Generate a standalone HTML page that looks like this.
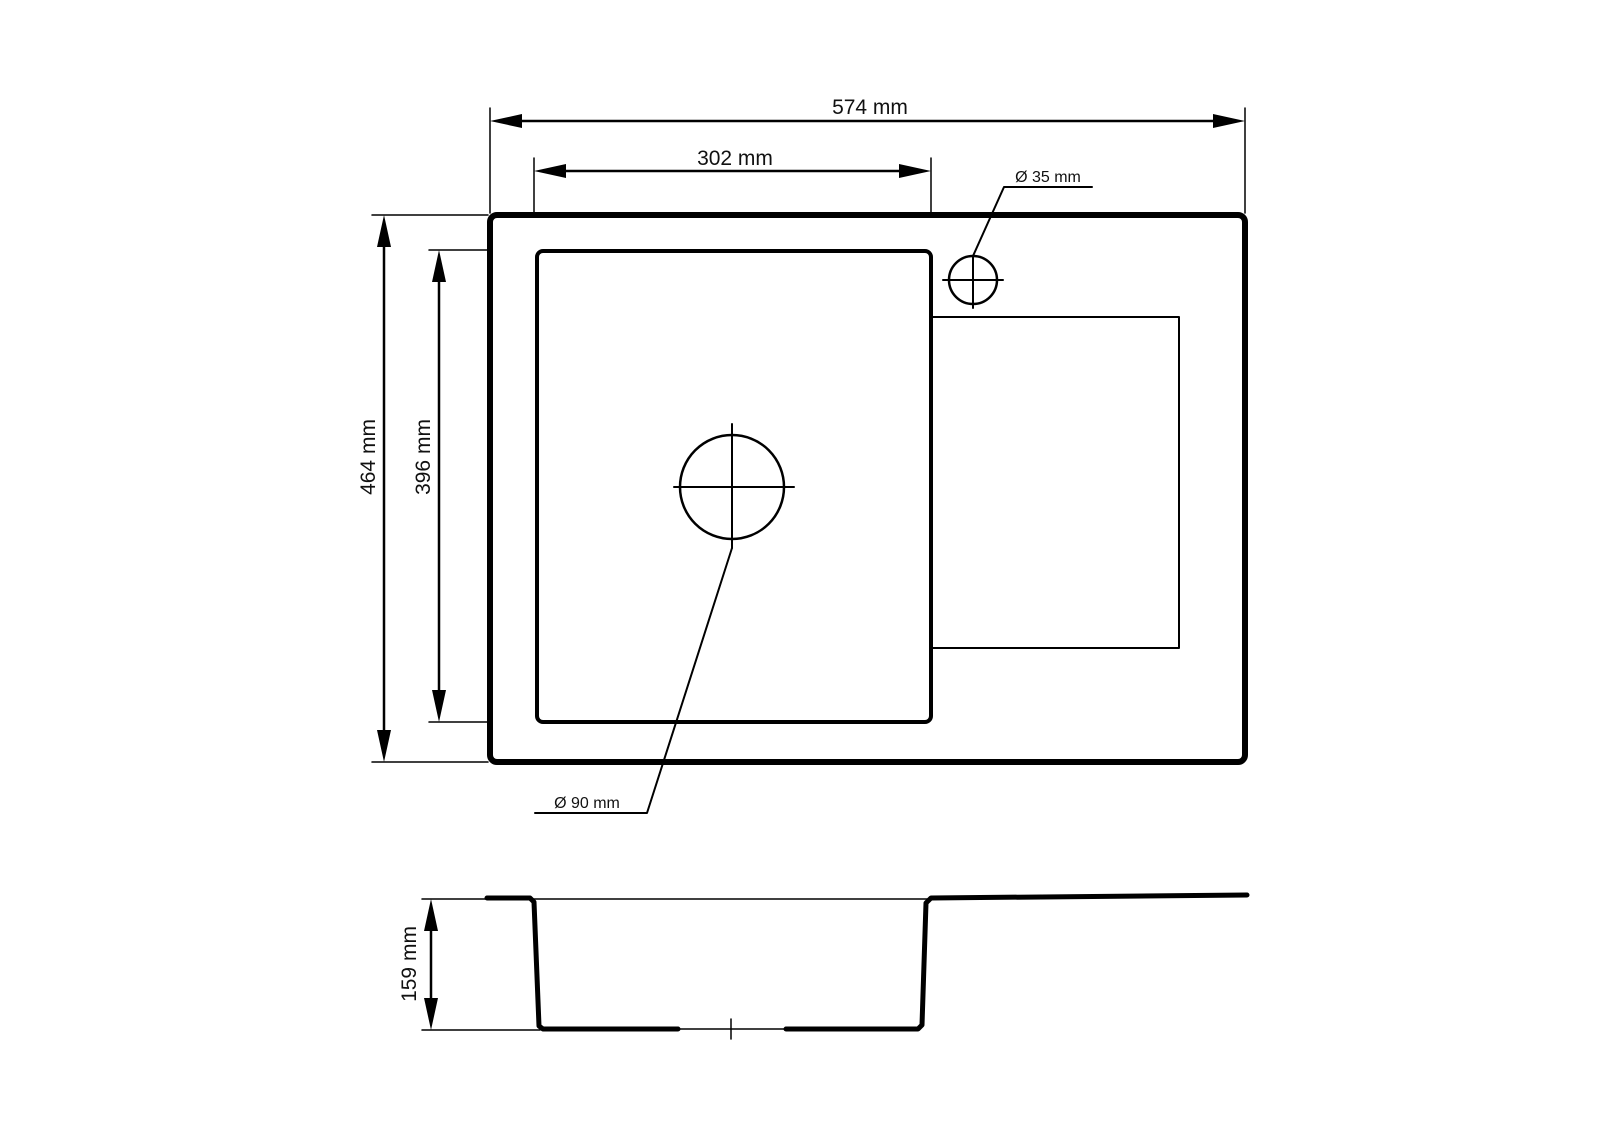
<!DOCTYPE html>
<html><head><meta charset="utf-8"><style>
html,body{margin:0;padding:0;background:#fff;}
svg{display:block;}
text{font-family:"Liberation Sans",sans-serif;fill:#111;}
</style></head><body>
<svg width="1600" height="1130" viewBox="0 0 1600 1130" xmlns="http://www.w3.org/2000/svg">
<g stroke="#000" fill="none" stroke-linecap="round" stroke-linejoin="round">
<!-- extension lines -->
<line x1="490" y1="108" x2="490" y2="213" stroke-width="1.5"/>
<line x1="1245" y1="108" x2="1245" y2="213" stroke-width="1.5"/>
<line x1="534" y1="158" x2="534" y2="213" stroke-width="1.5"/>
<line x1="931" y1="158" x2="931" y2="213" stroke-width="1.5"/>
<line x1="372" y1="215" x2="488" y2="215" stroke-width="1.5"/>
<line x1="372" y1="762" x2="488" y2="762" stroke-width="1.5"/>
<line x1="429" y1="250" x2="487" y2="250" stroke-width="1.5"/>
<line x1="429" y1="722" x2="487" y2="722" stroke-width="1.5"/>
<!-- dim lines -->
<line x1="500" y1="121" x2="1235" y2="121" stroke-width="2.5"/>
<line x1="544" y1="171" x2="921" y2="171" stroke-width="2.5"/>
<line x1="384" y1="225" x2="384" y2="752" stroke-width="2.5"/>
<line x1="439" y1="260" x2="439" y2="712" stroke-width="2.5"/>
<!-- main rects -->
<rect x="490" y="215" width="755" height="547" rx="7" stroke-width="6"/>
<rect x="537" y="251" width="394" height="471" rx="6" stroke-width="4"/>
<polyline points="931,317 1179,317 1179,648 931,648" stroke-width="2"/>
<!-- small hole -->
<circle cx="973" cy="280" r="24" stroke-width="2.5"/>
<line x1="943" y1="280" x2="1003" y2="280" stroke-width="2"/>
<line x1="973" y1="256" x2="973" y2="308" stroke-width="2"/>
<polyline points="973,256 1004,187 1092,187" stroke-width="2"/>
<!-- drain -->
<circle cx="732" cy="487" r="52" stroke-width="2.5"/>
<line x1="674" y1="487" x2="794" y2="487" stroke-width="2"/>
<line x1="732" y1="424" x2="732" y2="548" stroke-width="2"/>
<polyline points="732,548 647,813 535,813" stroke-width="2"/>
<!-- side view -->
<line x1="422" y1="899" x2="930" y2="899" stroke-width="1.5"/>
<line x1="422" y1="1030" x2="540" y2="1030" stroke-width="1.5"/>
<line x1="678" y1="1029" x2="786" y2="1029" stroke-width="1.5"/>
<line x1="731" y1="1019" x2="731" y2="1039" stroke-width="1.5"/>
<line x1="431" y1="909" x2="431" y2="1020" stroke-width="2.5"/>
<polyline points="487,898 530,898 534,902 539,1026 543,1029 678,1029" stroke-width="5"/>
<polyline points="786,1029 918,1029 922,1025 926,903 931,898 1247,895" stroke-width="5"/>
</g>
<g fill="#000">
<polygon points="490,121 522,114 522,128"/>
<polygon points="1245,121 1213,114 1213,128"/>
<polygon points="534,171 566,164 566,178"/>
<polygon points="931,171 899,164 899,178"/>
<polygon points="384,215 377,247 391,247"/>
<polygon points="384,762 377,730 391,730"/>
<polygon points="439,250 432,282 446,282"/>
<polygon points="439,722 432,690 446,690"/>
<polygon points="431,899 424,931 438,931"/>
<polygon points="431,1030 424,998 438,998"/>
</g>
<text x="870" y="114" font-size="21" text-anchor="middle">574 mm</text>
<text x="735" y="165" font-size="21" text-anchor="middle">302 mm</text>
<text x="1048" y="182" font-size="16" text-anchor="middle">Ø 35 mm</text>
<text x="587" y="808" font-size="16" text-anchor="middle">Ø 90 mm</text>
<text transform="translate(375,457) rotate(-90)" font-size="21" text-anchor="middle">464 mm</text>
<text transform="translate(430,457) rotate(-90)" font-size="21" text-anchor="middle">396 mm</text>
<text transform="translate(416,964) rotate(-90)" font-size="21" text-anchor="middle">159 mm</text>
</svg>
</body></html>
